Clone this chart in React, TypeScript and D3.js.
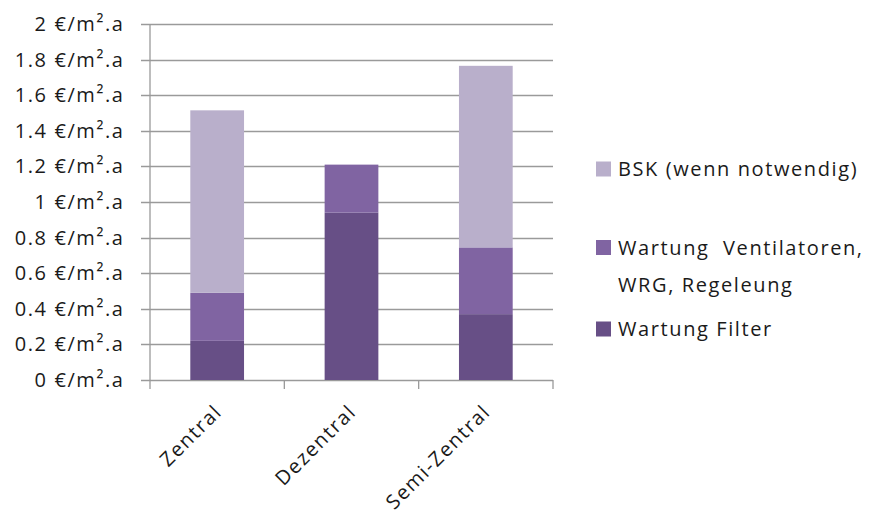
import React from "react";
import * as d3 from "d3";

const categories = ["Zentral", "Dezentral", "Semi-Zentral"];
const seriesNames = ["Wartung Filter", "Wartung  Ventilatoren,|WRG, Regeleung", "BSK (wenn notwendig)"];
const filterValues = [0.22, 0.94, 0.37];
const ventilatorValues = [0.27, 0.27, 0.375];
const bskValues = [1.025, 0, 1.02];
const yTicks = [0, 0.2, 0.4, 0.6, 0.8, 1, 1.2, 1.4, 1.6, 1.8, 2];
const colors = ["#674F86", "#8064A2", "#B9AFCB"];

const W = 869;
const H = 511;
const left = 150;
const right = 553;
const top = 24;
const bottom = 380;
const FONT = "'Open Sans', Lato, sans-serif";
const LS = 1.6;

export default function App() {
  const x = d3.scaleBand<string>().domain(categories).range([left, right]).paddingInner(0.6).paddingOuter(0.3);
  const xb = d3.scaleBand<string>().domain(categories).range([left, right]);
  const y = d3.scaleLinear().domain([0, 2]).range([bottom, top]);
  const rows = categories.map((c, i) => ({ cat: c, f: filterValues[i], v: ventilatorValues[i], b: bskValues[i] }));
  const stacked = d3.stack<any>().keys(["f", "v", "b"])(rows);
  const fmt = (t: number) => `${d3.format("~g")(t)} €/m².a`;
  const legendY = [329, 247.5, 169];

  return (
    <svg width={W} height={H} style={{ position: "absolute", left: 0, top: 0, background: "#fff" }} fontFamily={FONT}>
      {yTicks.map((t) => (
        <g key={t}>
          <line x1={left - 9} x2={right} y1={Math.round(y(t)) + 0.5} y2={Math.round(y(t)) + 0.5} stroke="#9a9a9a" strokeWidth={1.3} />
          <text x={123 + LS} y={y(t)} dy="0.35em" textAnchor="end" fontSize={20} letterSpacing={LS} fill="#1a1a1a">{fmt(t)}</text>
        </g>
      ))}
      <line x1={left} x2={left} y1={top} y2={bottom} stroke="#9a9a9a" strokeWidth={1.3} />
      {stacked.map((s, si) =>
        s.map((d, i) => (
          <rect key={`${si}-${i}`} x={x(categories[i])} width={x.bandwidth()} y={y(d[1])} height={Math.max(0, y(d[0]) - y(d[1]))} fill={colors[si]} />
        ))
      )}
      {[...categories.map((c) => xb(c) as number), right].map((px, i) => (
        <line key={i} x1={px} x2={px} y1={bottom} y2={bottom + 9} stroke="#9a9a9a" strokeWidth={1.3} />
      ))}
      {categories.map((c) => {
        const cx = (xb(c) as number) + xb.bandwidth() / 2 + 1;
        const cy = bottom + 28;
        return (
          <text key={c} transform={`translate(${cx},${cy}) rotate(-45)`} textAnchor="end" fontSize={20} letterSpacing={LS} fill="#1a1a1a" dy="0.35em">{c}</text>
        );
      })}
      {seriesNames.map((n, i) => {
        const lines = n.split("|");
        const cy = legendY[i];
        return (
          <g key={n}>
            <rect x={596} y={cy - 7.5} width={15} height={15} fill={colors[i]} />
            {lines.map((l, li) => (
              <text key={li} x={618} y={cy + li * 37} dy="0.35em" fontSize={20} letterSpacing={LS} fill="#1a1a1a" style={{ whiteSpace: "pre" }}>{l}</text>
            ))}
          </g>
        );
      })}
    </svg>
  );
}
